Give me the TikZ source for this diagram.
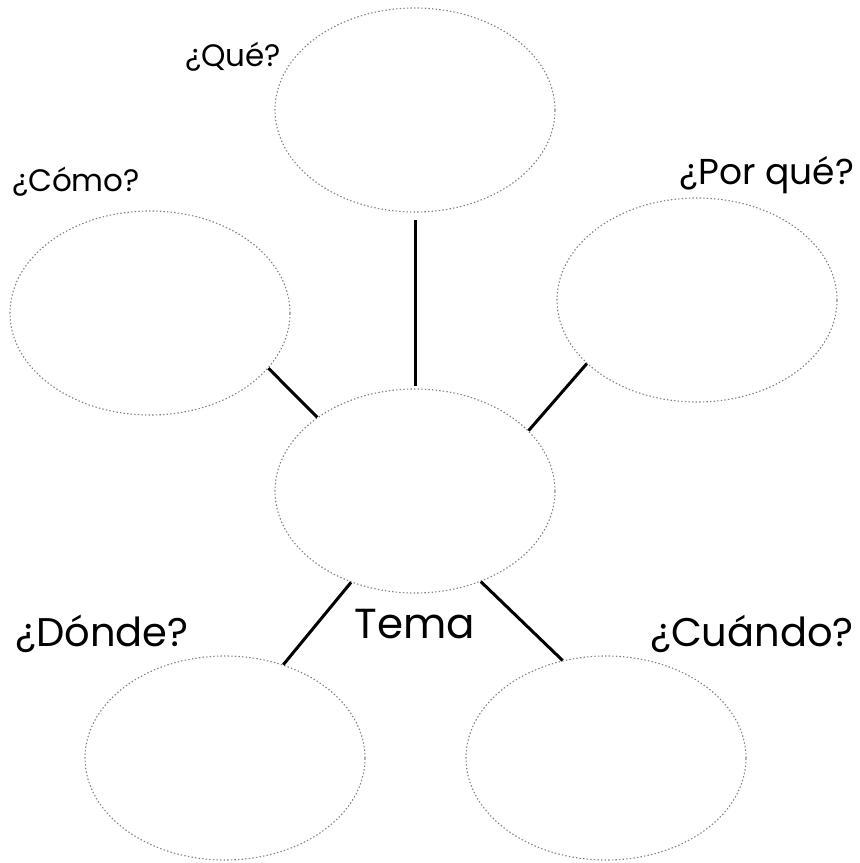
\documentclass[tikz,border=0pt]{standalone}
\usepackage{fontspec}
\setmainfont{Poppins}
\usetikzlibrary{shapes.geometric}
\tikzset{
  bubble/.style={ellipse, draw=black!50, line width=1.1pt, dash pattern=on 1.4pt off 2.2pt, minimum width=280pt, minimum height=204pt, inner sep=0pt},
  link/.style={line width=3pt, black},
  lbl/.style={inner sep=0pt},
  fs/.style={font=\fontsize{#1}{#1}\selectfont}
}
\begin{document}
\begin{tikzpicture}[x=1pt,y=-1pt]
\useasboundingbox (0,0) rectangle (860,863);
\node[bubble] (que) at (415,110) {};
\node[bubble] (como) at (150,313) {};
\node[bubble] (porque) at (697,300) {};
\node[bubble] (tema) at (415,491) {};
\node[bubble] (donde) at (225,758) {};
\node[bubble] (cuando) at (606,758) {};
\draw[link, shorten <=7pt, shorten >=2pt] (que.south) -- (tema.north);
\draw[link] (como.-25.8) -- (tema.143.4);
\draw[link] (porque.-150.6) -- (tema.28);
\draw[link] (tema.-125.2) -- (donde.58);
\draw[link] (tema.-54.8) -- (cuando.114);
\node[lbl, fs=31] (lque) at (233,57) {¿Qué?};
\node[lbl, fs=31] (lcomo) at (76,182) {¿Cómo?};
\node[lbl, fs=36] (lporque) at (767,175) {¿Por qué?};
\node[lbl, fs=40] (ldonde) at (102,634) {¿Dónde?};
\node[lbl, fs=40] (lcuando) at (752,634) {¿Cuándo?};
\node[lbl, fs=42] (ltema) at (415,624) {Tema};
\end{tikzpicture}
\end{document}
